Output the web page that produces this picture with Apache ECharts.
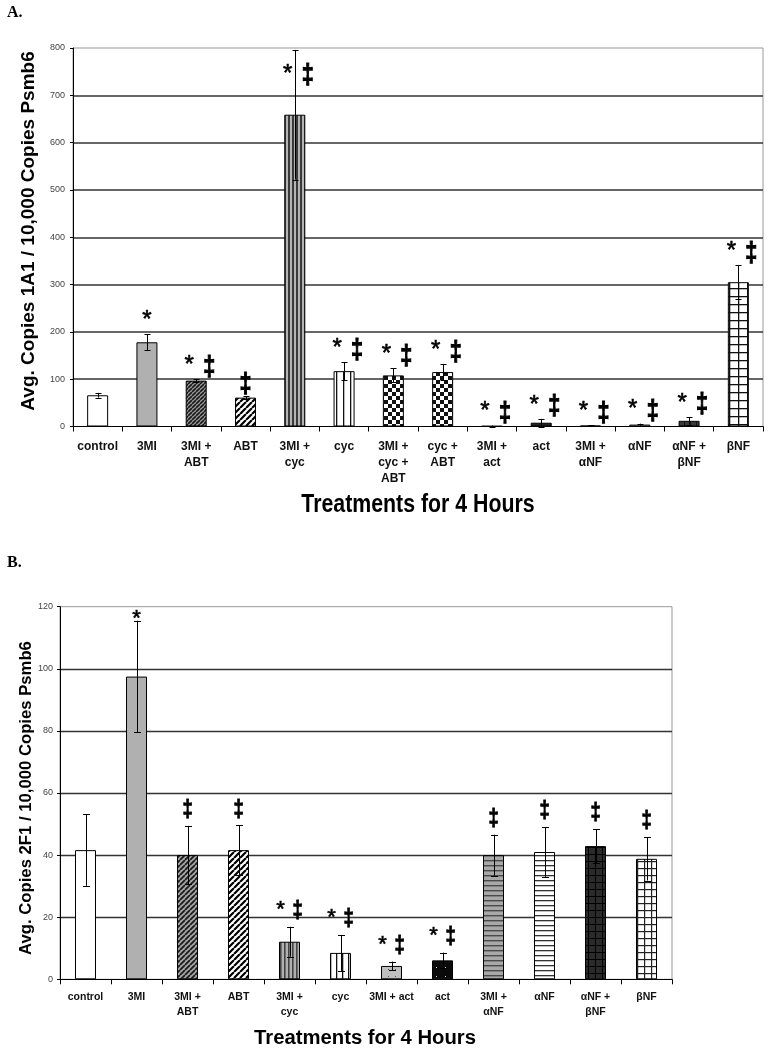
<!DOCTYPE html>
<html><head><meta charset="utf-8">
<script src="https://cdn.jsdelivr.net/npm/echarts@6/dist/echarts.min.js"></script>
<style>html,body{margin:0;padding:0;background:#fff}#c{width:772px;height:1050px}</style>
</head><body><div id="c"></div>
<script>
// ---------- DATA ----------
const categoriesA = ['control','3MI','3MI +\nABT','ABT','3MI +\ncyc','cyc','3MI +\ncyc +\nABT','cyc +\nABT','3MI +\nact','act','3MI +\nαNF','αNF','αNF +\nβNF','βNF'];
const valuesA = [66, 178, 97, 61, 659, 117, 108, 115, 1, 8, 2, 4, 12, 305];
const errorsA = [5, 17, 3, 3, 137, 19, 15, 17, 1, 8, 1, 2, 8, 36];
const marksA  = ['', '*', '*‡', '‡', '*‡', '*‡', '*‡', '*‡', '*‡', '*‡', '*‡', '*‡', '*‡', '*‡'];
const yMaxA = 800, yStepA = 100;

const categoriesB = ['control','3MI','3MI +\nABT','ABT','3MI +\ncyc','cyc','3MI + act','act','3MI +\nαNF','αNF','αNF +\nβNF','βNF'];
const valuesB = [41.6, 97.5, 40, 41.6, 12.1, 8.5, 4.3, 6.1, 40, 41, 42.9, 38.8];
const errorsB = [11.5, 18, 9.4, 8, 4.8, 5.8, 1.4, 2.5, 6.6, 8, 5.5, 7];
const marksB  = ['', '*', '‡', '‡', '*‡', '*‡', '*‡', '*‡', '‡', '‡', '‡', '‡'];
const yMaxB = 120, yStepB = 20;

const yTitleA = 'Avg. Copies 1A1 / 10,000 Copies Psmb6';
const yTitleB = 'Avg. Copies 2F1 / 10,000 Copies Psmb6';
const xTitle = 'Treatments for 4 Hours';

// ---------- PATTERNS (style) ----------
function mk(w,h,draw){const c=document.createElement('canvas');c.width=w;c.height=h;const g=c.getContext('2d');draw(g,w,h);return {image:c,repeat:'repeat'};}
function diag(bg,fg,s,lw){return mk(s,s,(g,w,h)=>{g.fillStyle=bg;g.fillRect(0,0,w,h);g.strokeStyle=fg;g.lineWidth=lw;g.beginPath();for(let k=-1;k<=1;k++){g.moveTo(k*w,h);g.lineTo(k*w+w,0);}g.stroke();});}
function vert(bg,fg,s,lw){return mk(s,4,(g,w,h)=>{g.fillStyle=bg;g.fillRect(0,0,w,h);g.fillStyle=fg;g.fillRect(0,0,lw,h);});}
function horiz(bg,fg,s,lw){return mk(4,s,(g,w,h)=>{g.fillStyle=bg;g.fillRect(0,0,w,h);g.fillStyle=fg;g.fillRect(0,0,w,lw);});}
function checker(a,b,s){return mk(2*s,2*s,(g,w,h)=>{g.fillStyle=a;g.fillRect(0,0,w,h);g.fillStyle=b;g.fillRect(0,0,s,s);g.fillRect(s,s,s,s);});}
function gridp(bg,fg,w0,h0,lw){return mk(w0,h0,(g,w,h)=>{g.fillStyle=bg;g.fillRect(0,0,w,h);g.fillStyle=fg;g.fillRect(0,0,lw,h);g.fillRect(0,0,w,lw);});}
function dots(bg,fg,w0,h0,r){return mk(w0,h0,(g,w,h)=>{g.fillStyle=bg;g.fillRect(0,0,w,h);g.fillStyle=fg;g.fillRect(Math.floor(w/2),Math.floor(h/2),r,r);});}

const fillsA = [
  '#ffffff', '#b0b0b0', diag('#9a9a9a','#1a1a1a',4,1.6), diag('#ffffff','#000000',6,2.2),
  vert('#b5b5b5','#3a3a3a',4,2), vert('#ffffff','#111111',7,1.3),
  checker('#ffffff','#111111',4), checker('#ffffff','#111111',4),
  '#333333', dots('#222222','#666666',5,5,1), '#333333',
  horiz('#ffffff','#666666',3,1), gridp('#3a3a3a','#111111',6,6,1), gridp('#ffffff','#111111',9,8,1.3)
];
const fillsB = [
  '#ffffff', '#b0b0b0', diag('#a5a5a5','#1a1a1a',5,1.8), diag('#ffffff','#000000',6,2.2),
  vert('#b0b0b0','#444444',4,1.6), vert('#ffffff','#111111',6,1.3),
  dots('#bfbfbf','#555555',7,7,1), dots('#0a0a0a','#dddddd',9,9,1),
  horiz('#a8a8a8','#4a4a4a',5,1.4), horiz('#ffffff','#333333',5,1.3),
  gridp('#2b2b2b','#000000',7,7,1), gridp('#ffffff','#222222',7,7,1.2)
];

// ---------- LAYOUT ----------
const gridA = {left:73, top:48, width:690, height:378.5};
const gridB = {left:60, top:606.7, width:612, height:372.6};

function errSeries(vals, errs, gi, cap){
  return {
    type:'custom', xAxisIndex:gi, yAxisIndex:gi, z:5, silent:true,
    data: vals.map((v,i)=>[i, Math.max(v-errs[i],0), v+errs[i]]),
    renderItem:(p,api)=>{
      const lo = api.coord([api.value(0), api.value(1)]);
      const hi = api.coord([api.value(0), api.value(2)]);
      const x = Math.round(lo[0])+0.5;
      const st = {stroke:'#000', lineWidth:1};
      return {type:'group', children:[
        {type:'line', shape:{x1:x,y1:lo[1],x2:x,y2:hi[1]}, style:st},
        {type:'line', shape:{x1:x-cap,y1:Math.round(hi[1])+0.5,x2:x+cap,y2:Math.round(hi[1])+0.5}, style:st},
        {type:'line', shape:{x1:x-cap,y1:Math.round(lo[1])+0.5,x2:x+cap,y2:Math.round(lo[1])+0.5}, style:st}
      ]};
    }
  };
}
function markSeries(vals, errs, marks, gi, cfg){
  return {
    type:'custom', xAxisIndex:gi, yAxisIndex:gi, z:6, silent:true,
    data: vals.map((v,i)=>[i, v+errs[i]]),
    renderItem:(p,api)=>{
      const m = marks[p.dataIndex];
      if(!m) return {type:'group', children:[]};
      const pt = api.coord([api.value(0), api.value(1)]);
      const topPx = cfg.top;
      const ch = [];
      const both = m.length === 2;
      if(m.indexOf('*')>=0){
        const y = Math.max(pt[1]-cfg.starDy, topPx+cfg.clampStar);
        ch.push({type:'text', x: pt[0] + (both?cfg.starDx:0), y: y,
          style:{text:'*', fontSize:cfg.starSize, fontFamily:'Liberation Sans, Arial', fill:'#000', stroke:'#000', lineWidth:0.6, align:'center', verticalAlign:'middle'}});
      }
      if(m.indexOf('‡')>=0){
        const y = Math.max(pt[1]-cfg.dagDy, topPx+cfg.clampDag);
        ch.push({type:'text', x: pt[0] + (both?cfg.dagDx:0), y: y, scaleX:0.8,
          style:{text:'‡', fontSize:cfg.dagSize, fontWeight:'bold', fontFamily:'Liberation Sans, Arial', fill:'#000', stroke:'#000', lineWidth:cfg.dagStroke, align:'center', verticalAlign:'middle'}});
      }
      return {type:'group', children:ch};
    }
  };
}

const xLabA = {interval:0, fontFamily:'Liberation Sans, Arial', fontWeight:'bold', fontSize:12, lineHeight:16, color:'#111', margin:12};
const xLabB = {interval:0, fontFamily:'Liberation Sans, Arial', fontWeight:'bold', fontSize:10.5, lineHeight:14.5, color:'#111', margin:11};
const yLab = {fontFamily:'Liberation Sans, Arial', fontSize:9, color:'#444'};

const option = {
  animation:false,
  backgroundColor:'#fff',
  grid:[
    Object.assign({show:true, borderColor:'#999', borderWidth:1, containLabel:false, outerBoundsMode:'none'}, gridA),
    Object.assign({show:true, borderColor:'#999', borderWidth:1, containLabel:false, outerBoundsMode:'none'}, gridB)
  ],
  xAxis:[
    {type:'category', gridIndex:0, data:categoriesA, axisLine:{lineStyle:{color:'#000',width:1}},
      axisTick:{show:true, interval:0, length:5, lineStyle:{color:'#000'}}, axisLabel:xLabA, splitLine:{show:false}},
    {type:'category', gridIndex:1, data:categoriesB, axisLine:{lineStyle:{color:'#000',width:1}},
      axisTick:{show:true, interval:0, length:5, lineStyle:{color:'#000'}}, axisLabel:xLabB, splitLine:{show:false}}
  ],
  yAxis:[
    {type:'value', gridIndex:0, min:0, max:yMaxA, interval:yStepA, axisLine:{show:true, lineStyle:{color:'#000'}},
      axisTick:{show:true, length:3, lineStyle:{color:'#000'}}, axisLabel:Object.assign({margin:8}, yLab),
      splitLine:{show:true, showMinLine:false, showMaxLine:false, lineStyle:{color:'#333', width:1.6}}},
    {type:'value', gridIndex:1, min:0, max:yMaxB, interval:yStepB, axisLine:{show:true, lineStyle:{color:'#000'}},
      axisTick:{show:true, length:3, lineStyle:{color:'#000'}}, axisLabel:Object.assign({margin:7}, yLab),
      splitLine:{show:true, showMinLine:false, showMaxLine:false, lineStyle:{color:'#333', width:1.4}}}
  ],
  series:[
    {type:'bar', xAxisIndex:0, yAxisIndex:0, barWidth:21, z:3,
      data: valuesA.map((v,i)=>({value:v, itemStyle:{color:fillsA[i], borderColor:'#000', borderWidth:1}}))},
    {type:'bar', xAxisIndex:1, yAxisIndex:1, barWidth:21, z:3,
      data: valuesB.map((v,i)=>({value:v, itemStyle:{color:fillsB[i], borderColor:'#000', borderWidth:1}}))},
    errSeries(valuesA, errorsA, 0, 3),
    errSeries(valuesB, errorsB, 1, 3.5),
    markSeries(valuesA, errorsA, marksA, 0, {top:gridA.top, starDy:14, dagDy:12, clampStar:26, clampDag:28, starDx:-7, dagDx:13, starSize:24, dagSize:27, dagStroke:1.1}),
    markSeries(valuesB, errorsB, marksB, 1, {top:gridB.top, starDy:17, dagDy:15, clampStar:12, clampDag:14, starDx:-9, dagDx:8, starSize:22, dagSize:23, dagStroke:0.9})
  ],
  graphic:[
    {type:'text', left:7, top:5, style:{text:'A.', font:'bold 16px "Liberation Serif", "Times New Roman", serif', fill:'#000'}},
    {type:'text', left:7, top:555, style:{text:'B.', font:'bold 16px "Liberation Serif", "Times New Roman", serif', fill:'#000'}},
    {type:'text', x:29, y:231, rotation:Math.PI/2, style:{text:yTitleA, font:'bold 19px "Liberation Sans", Arial', fill:'#000', align:'center', verticalAlign:'middle'}},
    {type:'text', x:26.5, y:798, rotation:Math.PI/2, style:{text:yTitleB, font:'bold 16.7px "Liberation Sans", Arial', fill:'#000', align:'center', verticalAlign:'middle'}},
    {type:'text', x:418, y:505, scaleX:0.82, style:{text:xTitle, font:'bold 26px "Liberation Sans", Arial', fill:'#000', align:'center', verticalAlign:'middle'}},
    {type:'text', x:365, y:1038, style:{text:xTitle, font:'bold 20.3px "Liberation Sans", Arial', fill:'#000', align:'center', verticalAlign:'middle'}}
  ]
};
const chart = echarts.init(document.getElementById('c'), null, {renderer:'canvas'});
chart.setOption(option);
</script>
</body></html>
